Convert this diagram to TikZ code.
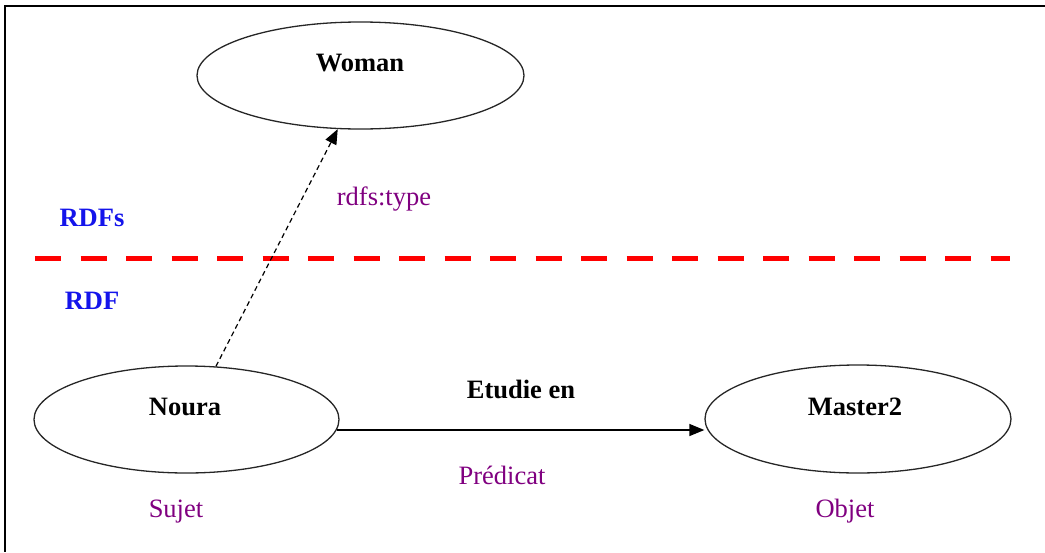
\documentclass[tikz,border=0pt]{standalone}
\usepackage{fontspec}
\setmainfont{Liberation Serif}
\usetikzlibrary{shapes.geometric,arrows.meta}
\definecolor{lblpurple}{RGB}{128,0,128}
\definecolor{lblblue}{RGB}{20,20,235}
\definecolor{sepred}{RGB}{255,0,0}
\tikzset{
  ent/.style={draw=black!85, line width=1.3pt, ellipse, inner sep=0pt},
  bold/.style={font=\fontsize{26.5}{30}\selectfont\bfseries, inner sep=0pt, anchor=base},
  role/.style={font=\fontsize{26.5}{30}\selectfont, text=lblpurple, inner sep=0pt, anchor=base},
  layer/.style={font=\fontsize{26.5}{30}\selectfont\bfseries, text=lblblue, inner sep=0pt, anchor=base},
  rel/.style={line width=1.3pt, -{Triangle[length=15pt,width=12pt]}},
  typ/.style={line width=1.2pt, dash pattern=on 5pt off 3.5pt, -{Triangle[length=15pt,width=12pt]}},
}
\begin{document}
\begin{tikzpicture}[x=1pt,y=-1pt]
\useasboundingbox (0,0) rectangle (1045,552);
% frame (top and left edges)
\draw[line width=2.2pt] (1045,6) -- (5,6) -- (5,552);
% separator
\coordinate (sepL) at (35,258);
\coordinate (sepR) at (1010,258);
\draw[sepred, line width=5pt, dash pattern=on 26pt off 19.5pt] (sepL) -- (sepR);
% ellipses
\node[ent, minimum width=327pt, minimum height=107pt] (woman) at (360.5,75.5) {};
\node[ent, minimum width=305pt, minimum height=107pt] (noura) at (186.5,419.5) {};
\node[ent, minimum width=306pt, minimum height=108pt] (master) at (858,419) {};
% texts
\node[bold] (womanT) at (360,71) {Woman};
\node[bold] (nouraT) at (185,415) {Noura};
\node[bold] (masterT) at (855,415) {Master2};
\node[bold] (predT) at (521,398) {Etudie en};
\node[role] (typeT) at (384,205) {rdfs:type};
\node[role] (predR) at (502,484) {Prédicat};
\node[role] (sujR) at (176,517) {Sujet};
\node[role] (objR) at (845,517) {Objet};
\node[layer] (rdfs) at (92,226) {RDFs};
\node[layer] (rdf) at (92,309) {RDF};
% connectors
\draw[typ] (noura.61) -- (woman.247.5);
\draw[rel] (noura.-4.6) -- (noura.-4.6 -| master.west);
\end{tikzpicture}
\end{document}
